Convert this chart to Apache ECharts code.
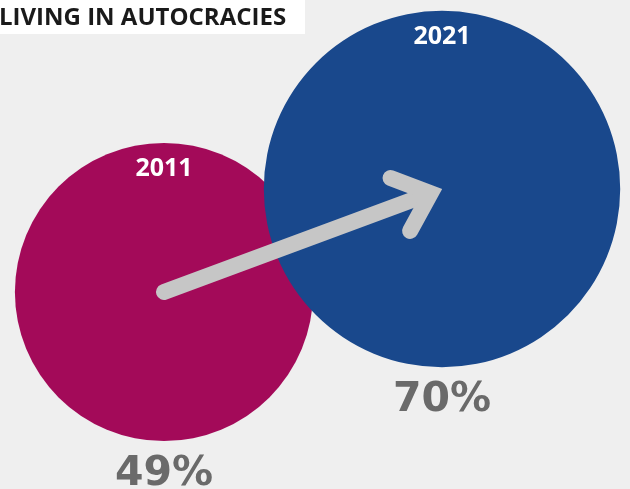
<!DOCTYPE html>
<html>
<head>
<meta charset="utf-8">
<script src="https://cdn.jsdelivr.net/npm/echarts@6/dist/echarts.min.js"></script>
<style>
  html, body { margin: 0; padding: 0; background: #efefef; }
  #chart { width: 630px; height: 489px; }
</style>
</head>
<body>
<div id="chart"></div>
<script>
// data
const years = ['2011', '2021']
const shares = [49, 70] // % of world population living in autocracies
const titleText = 'LIVING IN AUTOCRACIES'

// layout
const centers = [[164, 292], [442, 189]]
const colors = ['#a30a59', '#19488c']
const radiusPerUnit = 21.3 // circle area proportional to share

const chart = echarts.init(document.getElementById('chart'), null, { renderer: 'canvas' })

function radiusOf (v) {
  return Math.sqrt(v) * radiusPerUnit
}

const option = {
  backgroundColor: '#efefef',
  animation: false,
  graphic: [
    { type: 'rect', left: 0, top: 0, shape: { width: 305, height: 34 }, style: { fill: '#ffffff' }, z: 10 },
    {
      type: 'text',
      x: -1,
      y: 18,
      z: 11,
      style: {
        text: titleText,
        fill: '#1a1a1a',
        font: 'bold 24px "Open Sans"',
        verticalAlign: 'middle'
      }
    }
  ],
  series: [
    {
      // bubbles
      type: 'custom',
      coordinateSystem: 'none',
      data: shares.map((v, i) => [i, v]),
      renderItem: function (params, api) {
        const i = api.value(0)
        const v = api.value(1)
        const c = centers[i]
        const r = radiusOf(v)
        return {
          type: 'circle',
          z2: i,
          shape: { cx: c[0], cy: c[1], r: r },
          style: { fill: colors[i] }
        }
      },
      z: 1
    },
    {
      // arrow from 2011 bubble centre to 2021 bubble centre
      type: 'custom',
      coordinateSystem: 'none',
      data: [[0, 1]],
      renderItem: function (params, api) {
        const a = centers[api.value(0)]
        const b = centers[api.value(1)]
        const dx = b[0] - a[0]
        const dy = b[1] - a[1]
        const len = Math.sqrt(dx * dx + dy * dy)
        const ux = dx / len
        const uy = dy / len
        const vx = b[0] - ux * 12
        const vy = b[1] - uy * 12
        const ang = 41 * Math.PI / 180
        const bl = 43
        const back = Math.atan2(-uy, -ux)
        const p1 = [vx + Math.cos(back - ang) * bl, vy + Math.sin(back - ang) * bl]
        const p2 = [vx + Math.cos(back + ang) * bl, vy + Math.sin(back + ang) * bl]
        const st = { stroke: '#c6c6c6', lineWidth: 16, lineCap: 'round', lineJoin: 'miter', fill: null }
        return {
          type: 'group',
          children: [
            { type: 'line', shape: { x1: a[0], y1: a[1], x2: vx - ux * 4, y2: vy - uy * 4 }, style: st },
            { type: 'polyline', shape: { points: [p1, [vx, vy], p2] }, style: st }
          ]
        }
      },
      z: 2
    },
    {
      // year labels and percentages
      type: 'custom',
      coordinateSystem: 'none',
      data: shares.map((v, i) => [i, v]),
      renderItem: function (params, api) {
        const i = api.value(0)
        const v = api.value(1)
        const c = centers[i]
        const r = radiusOf(v)
        return {
          type: 'group',
          children: [
            {
              type: 'text',
              x: c[0],
              y: c[1] - r + 26,
              style: {
                text: years[i],
                fill: '#ffffff',
                font: 'bold 25px "Open Sans"',
                align: 'center',
                verticalAlign: 'middle'
              }
            },
            {
              type: 'text',
              x: c[0],
              y: c[1] + r + 33,
              style: {
                text: v + '%',
                fill: '#6a6a6a',
                font: 'bold 41px "DejaVu Sans"',
                align: 'center',
                verticalAlign: 'middle'
              }
            }
          ]
        }
      },
      z: 3
    }
  ]
}

chart.setOption(option)
</script>
</body>
</html>
